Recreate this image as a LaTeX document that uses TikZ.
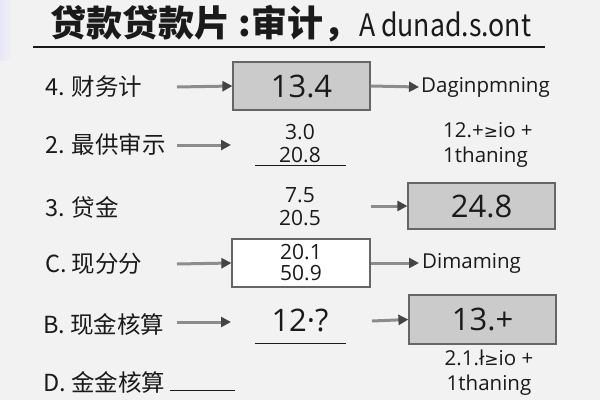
\documentclass[tikz,border=0pt]{standalone}
\usepackage{fontspec}
\setmainfont{Open Sans}
\newfontfamily\cjk{Noto Sans CJK SC}
\newfontfamily\cjknarrow{Noto Sans CJK SC}[FakeStretch=0.86]
\newfontfamily\symf{DejaVu Sans}
\usetikzlibrary{arrows.meta}
\definecolor{bg}{HTML}{F2F2F2}
\definecolor{ink}{HTML}{1A1A1A}
\definecolor{shaft}{HTML}{8C8C8C}
\definecolor{tipc}{HTML}{444444}
\definecolor{boxfill}{HTML}{CBCBCB}
\definecolor{boxline}{HTML}{666666}
\tikzset{
  flow/.style={shaft, line width=3pt, -{Triangle[length=10pt,width=10pt,color=tipc]}},
  lbl/.style={anchor=west, inner sep=0pt, text=ink, font=\cjk\fontsize{23.5}{23.5}\selectfont},
  grybox/.style={draw=boxline, line width=1.2pt, fill=boxfill, inner sep=0pt, text=ink, font=\fontsize{31}{31}\selectfont},
  whtbox/.style={draw=boxline, line width=1.2pt, fill=white, inner sep=0pt, text=ink, align=center, font=\fontsize{21}{21}\selectfont},
  num/.style={inner sep=0pt, text=ink, align=center, font=\fontsize{21}{23}\selectfont},
  bignum/.style={inner sep=0pt, text=ink, font=\fontsize{31}{31}\selectfont},
  rtxt/.style={inner sep=0pt, text=ink, font=\fontsize{20.5}{25}\selectfont},
  rulel/.style={ink, line width=1pt}
}
\begin{document}
\begin{tikzpicture}[x=1pt,y=-1pt]
\useasboundingbox (0,0) rectangle (600,400);
\fill[bg] (0,0) rectangle (600,400);
\shade[left color=gray!45!blue!12, right color=bg] (0,0) rectangle (12,60);
% title
\node[anchor=base west, inner sep=0pt, text=ink] (title) at (50,36)
  {{\cjk\bfseries\fontsize{36}{36}\selectfont 贷款贷款片 :审计，}{\cjknarrow\fontsize{31}{31}\selectfont A dunad.s.ont}};
\draw[ink, line width=1.5pt] (33,47) -- (545,47);
% left labels
\node[lbl] (l1) at (45,87) {4. 财务计};
\node[lbl] (l2) at (45,144) {2. 最供审示};
\node[lbl] (l3) at (45,207) {3. 贷金};
\node[lbl] (l4) at (45,264) {C. 现分分};
\node[lbl] (l5) at (43,324) {B. 现金核算};
\node[lbl] (l6) at (43,382) {D. 金金核算};
\draw[rulel] (170,390) -- (235,390);
% middle column
\node[grybox, minimum width=137pt, minimum height=48pt] (b1) at (301.5,86) {13.4};
\node[num] (m2) at (300,143.5) {3.0\\20.8};
\draw[rulel] (255,165) -- (346,165);
\node[num] (m3) at (300,206.5) {7.5\\20.5};
\node[whtbox, minimum width=138pt, minimum height=48pt] (b4) at (301,263) {20.1\\50.9};
\node[bignum] (m5) at (300,320) {12·?};
\draw[rulel] (255,343) -- (346,343);
% right column
\node[rtxt, anchor=west] (r1) at (421,87) {Daginpmning};
\node[rtxt, anchor=west, align=left] (r2) at (443,144.5) {12.+{\symf\fontsize{17}{17}\selectfont ≥}io +\\1thaning};
\node[grybox, minimum width=147pt, minimum height=46pt] (b3) at (481.5,206) {24.8};
\node[rtxt, anchor=west] (r4) at (422,263) {Dimaming};
\node[grybox, minimum width=147pt, minimum height=49pt] (b5) at (482.5,319.5) {13.+};
\node[rtxt, align=center] (r5) at (489,372.5) {2.1.ł{\symf\fontsize{17}{17}\selectfont ≥}io +\\1thaning};
% arrow end coordinates
\coordinate (s1) at (177,87);
\coordinate (s2) at (177,145);
\coordinate (e2) at (231,145);
\coordinate (s4) at (177,264);
\coordinate (s5) at (177,322);
\coordinate (e5) at (231,322);
\coordinate (e1) at (419,87);
\coordinate (s3) at (371,206);
\coordinate (e4) at (419,263);
\coordinate (s6) at (372,321);
% arrows
\draw[flow] (s1) -- (b1.west);
\draw[flow] (s2) -- (e2);
\draw[flow] (s4) -- (b4.west);
\draw[flow] (s5) -- (e5);
\draw[flow] (b1.east) -- (e1);
\draw[flow] (s3) -- (b3.west);
\draw[flow] (b4.east) -- (e4);
\draw[flow] (s6) -- (b5.west);
\end{tikzpicture}
\end{document}
